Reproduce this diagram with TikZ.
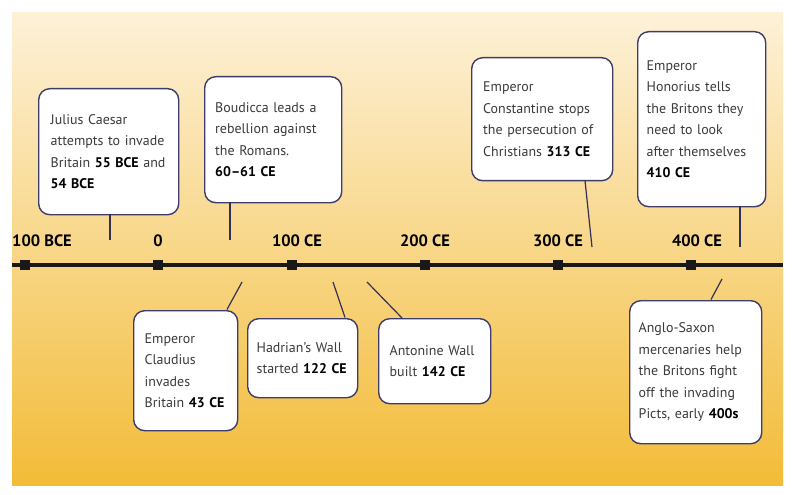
\documentclass[tikz,border=0pt]{standalone}
\usepackage{fontspec}
\setmainfont{PT Sans}
\usetikzlibrary{calc}
\definecolor{bgtop}{HTML}{FDF1D8}
\definecolor{bgbot}{HTML}{F3BC38}
\definecolor{boxline}{HTML}{3E3C6A}
\definecolor{txt}{HTML}{3A3A3A}
\tikzset{
  evbox/.style={draw=boxline, line width=1.4bp, fill=white, rounded corners=11bp,
    anchor=north west, inner sep=0pt, align=left, font=\fontsize{14}{21.5}\selectfont,
    text=txt},
  yearlbl/.style={font=\bfseries\fontsize{16.5}{18}\selectfont, text=black},
  tickmark/.style={fill=black!90, minimum size=10bp, inner sep=0pt},
  conn/.style={draw=boxline!80!black, line width=1.2bp}
}
\newcommand{\yr}[1]{\textbf{\color{black}#1}}
\begin{document}
\begin{tikzpicture}[x=1bp,y=-1bp]
\useasboundingbox (0,0) rectangle (795,495);
\shade[top color=bgtop, bottom color=bgbot] (12,13) rectangle (783,485);
% timeline
\coordinate (tlstart) at (12,265);
\coordinate (tlend) at (783,265);
\draw[line width=4bp, black!90] (tlstart) -- (tlend);
\foreach \n/\x in {t0/25,t1/158,t2/292,t3/425,t4/558,t5/691}{
  \node[tickmark] (\n) at (\x,265) {};
}
\node[yearlbl] (y0) at (42,241) {100 BCE};
\node[yearlbl] (y1) at (158,241) {0};
\node[yearlbl] (y2) at (297,241) {100 CE};
\node[yearlbl] (y3) at (425,241) {200 CE};
\node[yearlbl] (y4) at (558,241) {300 CE};
\node[yearlbl] (y5) at (697,241) {400 CE};
% upper boxes
\node[evbox, minimum width=140bp, minimum height=126bp, text width=116bp] (jc) at (38,88)
  {Julius Caesar\\attempts to invade\\Britain \yr{55 BCE} and\\\yr{54 BCE}};
\node[evbox, minimum width=137bp, minimum height=126bp, text width=116bp] (bo) at (204,76)
  {Boudicca leads a\\rebellion against\\the Romans.\\\yr{60–61 CE}};
\node[evbox, minimum width=141bp, minimum height=123bp, text width=118bp] (co) at (471,57)
  {Emperor\\Constantine stops\\the persecution of\\Christians \yr{313 CE}};
\node[evbox, minimum width=128bp, minimum height=175bp, text width=110bp] (ho) at (637,31)
  {Emperor\\Honorius tells\\the Britons they\\need to look\\after themselves\\\yr{410 CE}};
% lower boxes
\node[evbox, minimum width=104bp, minimum height=120bp, text width=82bp] (cl) at (133,310)
  {Emperor\\Claudius\\invades\\Britain \yr{43 CE}};
\node[evbox, minimum width=110bp, minimum height=79bp, text width=92bp] (ha) at (247,318)
  {Hadrian’s Wall\\started \yr{122 CE}};
\node[evbox, minimum width=112bp, minimum height=85bp, text width=90bp] (an) at (378,318)
  {Antonine Wall\\built \yr{142 CE}};
\node[evbox, minimum width=132bp, minimum height=143bp, text width=114bp] (as) at (629,300)
  {Anglo-Saxon\\mercenaries help\\the Britons fight\\off the invading\\Picts, early \yr{400s}};
% connectors
\coordinate (jcA) at (110,214.5); \coordinate (jcB) at (110,240);
\coordinate (boA) at (230,202.5); \coordinate (boB) at (230,240);
\coordinate (coA) at (585,180.5); \coordinate (coB) at (592,247);
\coordinate (hoA) at (740,206.5); \coordinate (hoB) at (740,247);
\coordinate (clA) at (227,309.5); \coordinate (clB) at (242,282);
\coordinate (haA) at (345,317.5); \coordinate (haB) at (333,282);
\coordinate (anA) at (402,318); \coordinate (anB) at (367,282);
\coordinate (asA) at (711,299.5); \coordinate (asB) at (722,279);
\foreach \p in {jc,bo,co,ho,cl,ha,an,as}{
  \draw[conn] (\p A) -- (\p B);
}
\end{tikzpicture}
\end{document}
